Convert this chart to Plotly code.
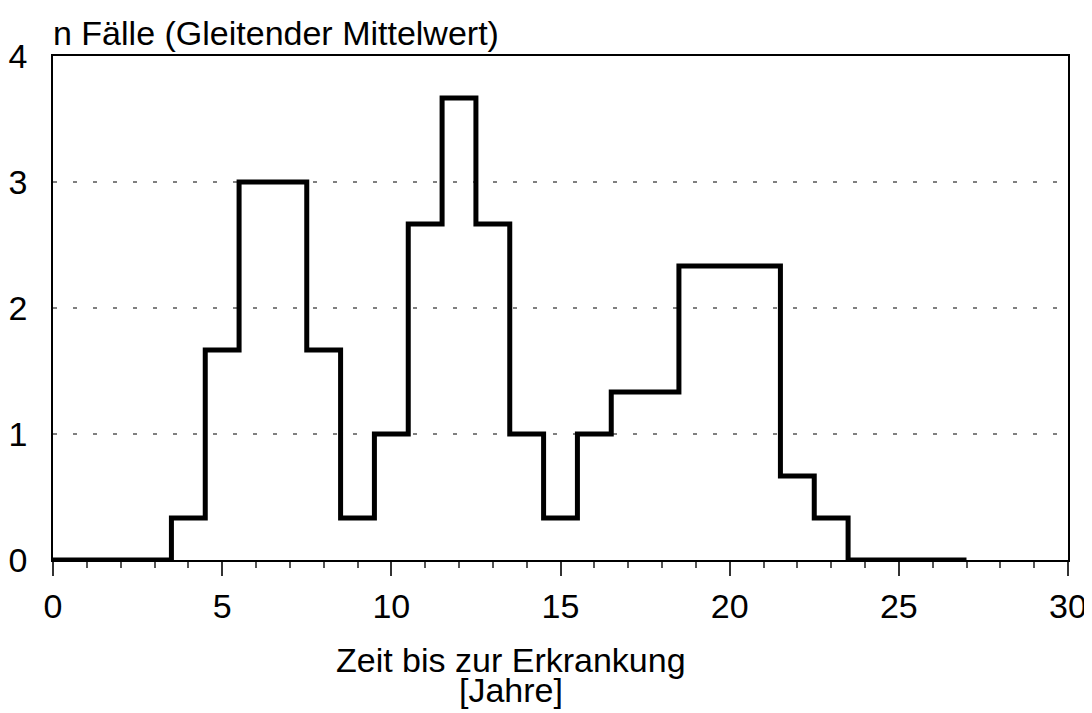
import plotly.graph_objects as go

years = list(range(0, 28))
cases = [0, 0, 0, 0, 1/3, 5/3, 3, 3, 5/3, 1/3, 1, 8/3, 11/3, 8/3, 1, 1/3,
         1, 4/3, 4/3, 7/3, 7/3, 7/3, 2/3, 1/3, 0, 0, 0, 0]
x_ticks = [0, 5, 10, 15, 20, 25, 30]
y_ticks = [0, 1, 2, 3, 4]

FONT = "Liberation Sans, Arial, Helvetica, sans-serif"
FS = 34

fig = go.Figure()
fig.add_trace(go.Scatter(x=years, y=cases, mode="lines", line_shape="hvh",
                         line=dict(color="black", width=5), showlegend=False))

fig.update_layout(
    width=1084, height=705,
    margin=dict(l=45, r=24, t=48, b=153),
    paper_bgcolor="white", plot_bgcolor="white",
    font=dict(family=FONT, size=FS, color="black"),
    xaxis=dict(range=[0, 30], tickvals=x_ticks, ticks="outside", ticklen=14,
               tickwidth=1.5, tickcolor="#333", showgrid=False, zeroline=False,
               showline=True, linecolor="black", linewidth=1.5, mirror=True,
               automargin=False, ticklabelstandoff=1,
               minor=dict(dtick=1, ticks="outside", ticklen=6, tickwidth=1.5, tickcolor="#555"),
               tickfont=dict(size=FS)),
    yaxis=dict(range=[0, 4], tickvals=y_ticks, ticks="", showgrid=False, zeroline=False,
               showline=True, linecolor="black", linewidth=1.5, mirror=True,
               automargin=False, ticklabelstandoff=17, tickfont=dict(size=FS)),
)

for yv in [1, 2, 3]:
    fig.add_shape(type="line", xref="paper", yref="y", x0=0, x1=1, y0=yv, y1=yv,
                  line=dict(color="black", width=1, dash="4px,16px"), layer="below")

fig.add_annotation(text="n Fälle (Gleitender Mittelwert)", xref="paper", yref="paper",
                   x=0, y=1, xanchor="left", yanchor="bottom", yshift=2, xshift=-2,
                   showarrow=False, font=dict(size=FS))
fig.add_annotation(text="Zeit bis zur Erkrankung", xref="paper", yref="paper",
                   x=0.451, y=0, xanchor="center", yanchor="middle", yshift=-100,
                   showarrow=False, font=dict(size=FS))
fig.add_annotation(text="[Jahre]", xref="paper", yref="paper",
                   x=0.451, y=0, xanchor="center", yanchor="middle", yshift=-130,
                   showarrow=False, font=dict(size=FS))

fig.write_html("out.html")
